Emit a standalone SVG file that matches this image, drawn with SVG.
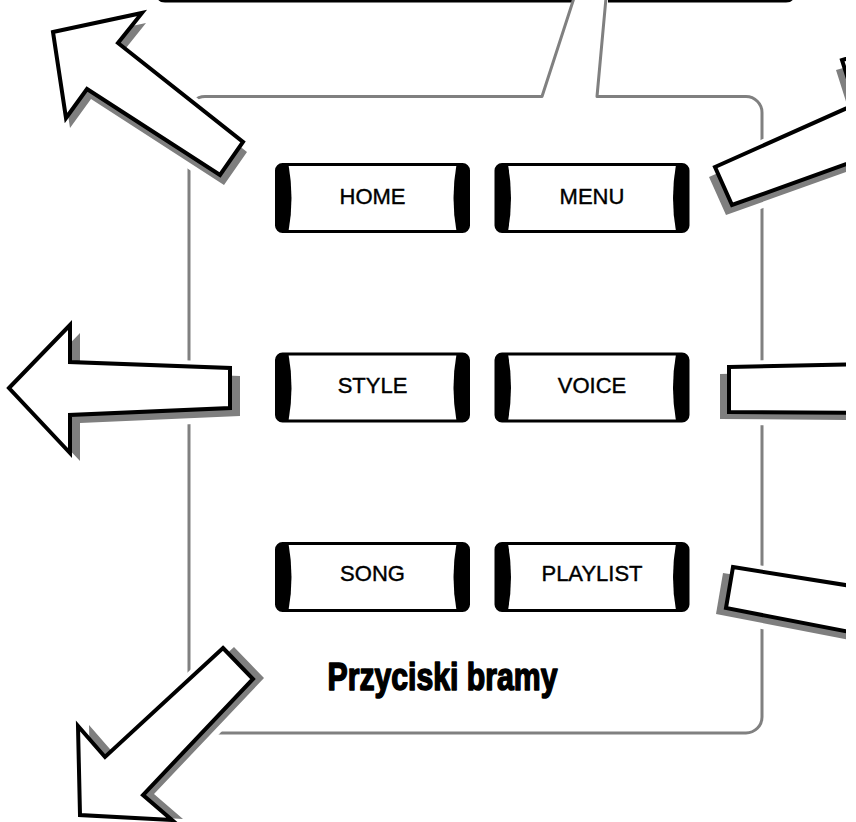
<svg xmlns="http://www.w3.org/2000/svg" xmlns:xlink="http://www.w3.org/1999/xlink" width="856" height="822" viewBox="0 0 856 822">
<defs>
<style>
.frame{fill:none;stroke:#808080;stroke-width:3;stroke-linejoin:round}
.box{fill:none;stroke:#000;stroke-width:3}
.btnbody{fill:#fff;stroke:#000;stroke-width:3}
.cap{fill:#000}
.lbl{font-family:"Liberation Sans",Arial,sans-serif;font-size:22px;text-anchor:middle;fill:#000;stroke:#000;stroke-width:0.4}
.title{font-family:"Liberation Sans",Arial,sans-serif;font-weight:bold;font-size:39px;fill:#000;stroke:#000;stroke-width:1.6;stroke-linejoin:round}
.halo{fill:#fff;stroke:#fff;stroke-width:12;stroke-linejoin:round}
.shadow{fill:#7f7f7f;stroke:none}
.arrow{fill:#fff;stroke:#000;stroke-width:4;stroke-linejoin:miter;stroke-miterlimit:10}
</style>
<g id="btnShape">
<rect class="btnbody" x="1.5" y="1.5" width="192" height="67" rx="6"/>
<path class="cap" d="M1.5,8 Q1.5,1.5 8,1.5 L13.5,1.5 Q19.5,35 13.5,68.5 L8,68.5 Q1.5,68.5 1.5,62 Z"/>
<path class="cap" d="M193.5,8 Q193.5,1.5 187,1.5 L181.5,1.5 Q175.5,35 181.5,68.5 L187,68.5 Q193.5,68.5 193.5,62 Z"/>
</g>
<polygon id="a1" points="53,32 142,13 118,43 243,142 220,175 87,89 66,118"/>
<polygon id="a2" points="9,388 70,325 70,362 230,368 230,408 70,415 70,453"/>
<polygon id="a3" points="223,648 253,679 143,795 172,820 80,815 78,726 105,757"/>
<polygon id="a4" points="715,167 856,104 842,60 950,30 950,140 880,152 732,205"/>
<polygon id="a5" points="729,367 870,364 870,413 729,412"/>
<polygon id="a6" points="733,567 870,589 870,636 726,608"/>
<clipPath id="clipR"><rect x="0" y="0" width="846" height="822"/></clipPath>
</defs>
<rect width="856" height="822" fill="#fff"/>

<g id="top-box">
<path class="box" d="M158,-20 L158,-6 Q158,1 165,1 L572,1 M608,1 L786,1 Q793,1 793,-6 L793,-20"/>
</g>

<g id="frame">
<path class="frame" d="M574,-2 L542,96.5 L205,96.5 A16,16 0 0 0 189,112.5 L189,717 A16,16 0 0 0 205,733 L746,733 A16,16 0 0 0 762,717 L762,112.5 A16,16 0 0 0 746,96.5 L597,96.5 L606,-2"/>
<text id="title" class="title" x="442.5" y="690" text-anchor="middle" textLength="230" lengthAdjust="spacingAndGlyphs">Przyciski bramy</text>
</g>

<g id="connectors" clip-path="url(#clipR)">
<g id="arrow-topleft">
<use xlink:href="#a1" class="halo" transform="translate(4,10)"/>
<use xlink:href="#a1" class="halo"/>
<use xlink:href="#a1" class="shadow" transform="translate(4,10)"/>
<use xlink:href="#a1" class="arrow"/>
</g>
<g id="arrow-left">
<use xlink:href="#a2" class="halo" transform="translate(10,8)"/>
<use xlink:href="#a2" class="halo"/>
<use xlink:href="#a2" class="shadow" transform="translate(10,8)"/>
<use xlink:href="#a2" class="arrow"/>
</g>
<g id="arrow-bottomleft">
<use xlink:href="#a3" class="halo" transform="translate(11,-1)"/>
<use xlink:href="#a3" class="halo"/>
<use xlink:href="#a3" class="shadow" transform="translate(11,-1)"/>
<use xlink:href="#a3" class="arrow"/>
</g>
<g id="arrow-topright">
<use xlink:href="#a4" class="halo" transform="translate(-6,10)"/>
<use xlink:href="#a4" class="halo"/>
<use xlink:href="#a4" class="shadow" transform="translate(-6,10)"/>
<use xlink:href="#a4" class="arrow"/>
</g>
<g id="arrow-right">
<use xlink:href="#a5" class="halo" transform="translate(-9,7)"/>
<use xlink:href="#a5" class="halo"/>
<use xlink:href="#a5" class="shadow" transform="translate(-9,7)"/>
<use xlink:href="#a5" class="arrow"/>
</g>
<g id="arrow-bottomright">
<use xlink:href="#a6" class="halo" transform="translate(-10,6)"/>
<use xlink:href="#a6" class="halo"/>
<use xlink:href="#a6" class="shadow" transform="translate(-10,6)"/>
<use xlink:href="#a6" class="arrow"/>
</g>
</g>

<g id="btn-home" transform="translate(275,163)">
<use xlink:href="#btnShape"/>
<text class="lbl" x="97.5" y="41">HOME</text>
</g>
<g id="btn-menu" transform="translate(494.5,163)">
<use xlink:href="#btnShape"/>
<text class="lbl" x="97.5" y="41">MENU</text>
</g>
<g id="btn-style" transform="translate(275,352.5)">
<use xlink:href="#btnShape"/>
<text class="lbl" x="97.5" y="40">STYLE</text>
</g>
<g id="btn-voice" transform="translate(494.5,352.5)">
<use xlink:href="#btnShape"/>
<text class="lbl" x="97.5" y="40">VOICE</text>
</g>
<g id="btn-song" transform="translate(275,542)">
<use xlink:href="#btnShape"/>
<text class="lbl" x="97.5" y="38.5">SONG</text>
</g>
<g id="btn-playlist" transform="translate(494.5,542)">
<use xlink:href="#btnShape"/>
<text class="lbl" x="97.5" y="38.5">PLAYLIST</text>
</g>
</svg>
